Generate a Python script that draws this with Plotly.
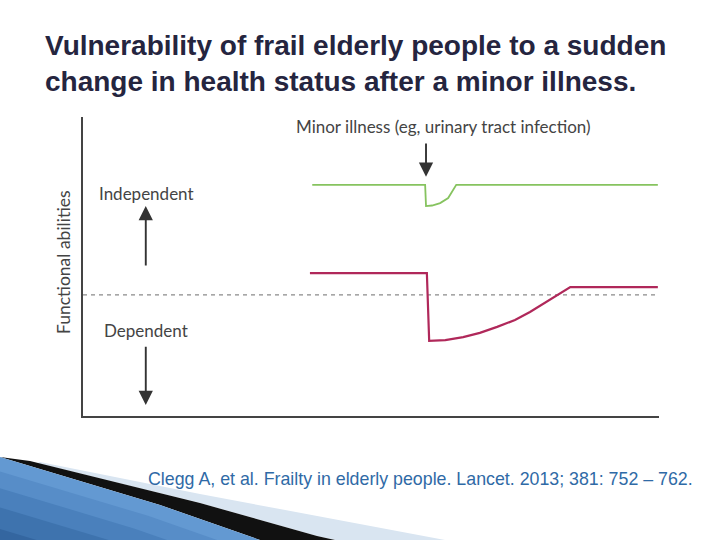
import plotly.graph_objects as go

# ---- data (x: time 0-100, y: functional ability 0-100) ----
green_x = [39.8, 59.4, 59.55, 60.6, 62.0, 63.4, 64.8, 99.8]
green_y = [77.3, 77.3, 70.2, 70.4, 71.2, 72.9, 77.3, 77.3]

red_x = [39.4, 59.7, 60.1, 62.9, 66.0, 68.9, 71.9, 75.0, 77.6, 80.2, 82.3, 84.6, 99.8]
red_y = [47.8, 47.8, 25.1, 25.4, 26.4, 27.8, 29.8, 32.1, 34.8, 37.8, 40.5, 43.1, 43.1]

threshold_x = [0, 99.8]
threshold_y = [40.5, 40.5]

# plot area in pixels
L, R, T, B = 83, 659, 117, 416
W, H = 720, 540

def px(x):
    return (x - L) / (R - L)

def py(y):
    return (B - y) / (B - T)

fig = go.Figure()
fig.add_trace(go.Scatter(x=threshold_x, y=threshold_y, mode="lines",
                         line=dict(color="#8a8a8a", width=1.3, dash="4px,4px"),
                         hoverinfo="skip"))
fig.add_trace(go.Scatter(x=green_x, y=green_y, mode="lines",
                         line=dict(color="#86c35f", width=1.8), hoverinfo="skip"))
fig.add_trace(go.Scatter(x=red_x, y=red_y, mode="lines",
                         line=dict(color="#b0285a", width=2.2), hoverinfo="skip"))

ann = []
tfont = dict(family="Liberation Sans", size=28, color="#25253f")
ann.append(dict(text="<b>Vulnerability of frail elderly people to a sudden</b>",
                xref="paper", yref="paper", x=px(43), y=py(46), xanchor="left",
                yanchor="middle", showarrow=False, font=tfont))
ann.append(dict(text="<b>change in health status after a minor illness.</b>",
                xref="paper", yref="paper", x=px(43), y=py(81), xanchor="left",
                yanchor="middle", showarrow=False, font=tfont))
# citation
ann.append(dict(text="Clegg A, et al. Frailty in elderly people. Lancet. 2013; 381: 752 – 762.",
                xref="paper", yref="paper", x=px(146), y=py(479), xanchor="left",
                yanchor="middle", showarrow=False,
                font=dict(family="Liberation Sans", size=17.8, color="#2f6aa6")))
lab = dict(family="Lato", color="#444444")
ann.append(dict(text="Functional abilities", xref="paper", yref="paper",
                x=px(63), y=py(262), textangle=-90, showarrow=False,
                xanchor="center", yanchor="middle", font=dict(lab, size=17.5)))
ann.append(dict(text="Independent", xref="paper", yref="paper",
                x=px(146), y=py(193), showarrow=False,
                xanchor="center", yanchor="middle", font=dict(lab, size=17)))
ann.append(dict(text="Dependent", xref="paper", yref="paper",
                x=px(146), y=py(330), showarrow=False,
                xanchor="center", yanchor="middle", font=dict(lab, size=17)))
ann.append(dict(text="Minor illness (eg, urinary tract infection)", xref="paper", yref="paper",
                x=px(443), y=py(126), showarrow=False,
                xanchor="center", yanchor="middle", font=dict(lab, size=17)))
# arrows
for (x0, y0, x1, y1) in [(10.9, 49.8, 10.9, 70.2), (10.9, 23.7, 10.9, 3.7),
                         (59.55, 91.6, 59.55, 80.0)]:
    ann.append(dict(x=x1, y=y1, ax=x0, ay=y0, xref="x", yref="y", axref="x", ayref="y",
                    text="", showarrow=True, arrowhead=2, arrowsize=1.5,
                    arrowwidth=1.9, arrowcolor="#333333"))

shapes = []
def poly(pts, color):
    d = "M " + " L ".join(f"{px(a):.5f},{py(b):.5f}" for a, b in pts) + " Z"
    shapes.append(dict(type="path", path=d, xref="paper", yref="paper",
                       fillcolor=color, line=dict(width=0), layer="above"))

# decorative swoosh, bottom left
poly([(40, 462), (200, 494), (445, 540), (335, 540), (317, 536), (200, 503), (37, 463)], "#d9e5f1")
poly([(30, 461), (200, 503), (317, 536), (335, 540), (260, 540), (160, 505), (0, 457)], "#111111")
edge = [(0, 457), (160, 505), (260, 540)]
blues = ["#6399d2", "#578dc8", "#4a80bc", "#3e73ae", "#3466a0"]
shifts = [0, 12, 26, 42, 60]
for c, s in zip(blues, shifts):
    e = [(x - s, y + s * 0.9) for x, y in edge]
    poly(e + [(e[-1][0], 540), (-80, 540), (-80, e[0][1])], c)

fig.update_layout(
    width=W, height=H, autosize=False,
    margin=dict(l=L, r=W - R, t=T, b=H - B, pad=0),
    paper_bgcolor="white", plot_bgcolor="white",
    showlegend=False,
    xaxis=dict(range=[0, 100], showgrid=False, zeroline=False, showticklabels=False,
               ticks="", showline=True, linecolor="#444444", linewidth=1.5),
    yaxis=dict(range=[0, 100], showgrid=False, zeroline=False, showticklabels=False,
               ticks="", showline=True, linecolor="#444444", linewidth=1.5),
    annotations=ann, shapes=shapes,
)
fig.write_html("out.html")
